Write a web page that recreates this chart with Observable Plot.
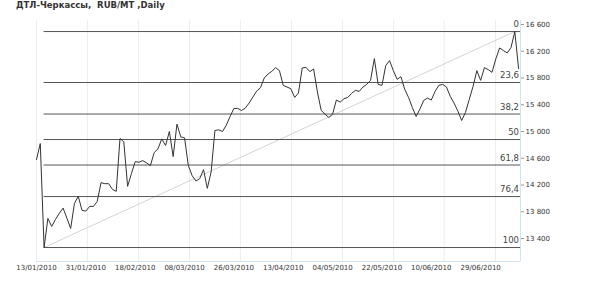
<!DOCTYPE html>
<html><head><meta charset="utf-8">
<script src="https://cdn.jsdelivr.net/npm/d3@7"></script>
<script src="https://cdn.jsdelivr.net/npm/@observablehq/plot@0.6"></script>
<style>
body{margin:0;background:#fff;}
#wrap{position:relative;width:590px;height:290px;overflow:hidden;}
#title{position:absolute;left:16px;top:0px;font:bold 8.5px "DejaVu Sans";color:#333;white-space:pre;}
#chart{position:absolute;left:0;top:0;}
</style></head><body><div id="wrap"><div id="chart"></div><div id="title"></div></div>
<script>
const title = "ДТЛ-Черкассы,  RUB/MT ,Daily";
const prices = [
14580,14820,13265,13700,13580,13685,13775,13855,13705,13550,
13925,14030,13820,13810,13880,13880,13955,14235,14220,14220,
14135,14105,14895,14845,14180,14370,14550,14540,14565,14530,
14490,14685,14740,14890,14790,15000,14625,15110,14920,14905,
14490,14340,14260,14295,14430,14150,14395,15015,15025,15000,
15095,15225,15345,15345,15315,15350,15425,15515,15605,15655,
15800,15860,15900,15955,15910,15690,15665,15640,15510,15575,
15950,15960,15895,15935,15590,15315,15260,15210,15260,15470,
15440,15490,15510,15570,15615,15600,15665,15705,15765,16090,
15705,15690,15985,16060,15910,15780,15820,15630,15510,15360,
15225,15335,15465,15500,15470,15600,15690,15705,15665,15525,
15425,15305,15165,15285,15480,15675,15910,15765,15955,15925,
15885,16085,16250,16210,16175,16255,16495,15940
];
const tickIndex = [0,13,26,39,52,65,78,91,104,117];
const tickLabels = ["13/01/2010","31/01/2010","18/02/2010","08/03/2010","26/03/2010","13/04/2010","04/05/2010","22/05/2010","10/06/2010","29/06/2010"];
const gridIndex = [0,13.4,26.9,40.3,53.7,67.2,80.6,94.1,107.4,120.9];
const yTicks = [13400,13800,14200,14600,15000,15400,15800,16200,16600];
const fibLevels = [0,23.6,38.2,50,61.8,76.4,100];
const fibLabels = ["0","23,6","38,2","50","61,8","76,4","100"];

document.getElementById("title").textContent = title;

const data = prices.map((v,i)=>({i,v}));
const vMin = d3.min(prices), vMax = d3.max(prices);
const iMin = prices.indexOf(vMin), iMax = prices.indexOf(vMax);
const xEnd = prices.length - 0.5;
const fib = fibLevels.map((p,k)=>({p, label: fibLabels[k], v: vMax - (vMax - vMin) * p / 100}));
const yDomain = [13056, 16660];

const chart = Plot.plot({
  width: 590, height: 290,
  marginLeft: 36, marginRight: 70, marginTop: 20, marginBottom: 29,
  style: {fontFamily: '"DejaVu Sans"', fontSize: "7px", color: "#333", background: "transparent"},
  x: {domain: [0, xEnd], axis: null, label: null},
  y: {domain: yDomain, axis: null, label: null},
  marks: [
    Plot.ruleX(gridIndex, {x: d => d, stroke: "#e4eef6"}),
    Plot.ruleX([xEnd], {stroke: "#d3e3f0"}),
    Plot.ruleY([yDomain[0]], {stroke: "#d3e3f0"}),
    Plot.line([{i: iMin, v: vMin}, {i: iMax, v: vMax}], {x: "i", y: "v", stroke: "#d4d4d4", strokeWidth: 1}),
    Plot.ruleY(fib, {y: "v", x1: iMin, x2: xEnd, stroke: "#555", strokeWidth: 1}),
    Plot.text(fib, {x: xEnd, y: "v", text: "label", textAnchor: "end", dx: -1.5, dy: -7, fontSize: 8.5, fill: "#444"}),
    Plot.line(data, {x: "i", y: "v", stroke: "#333", strokeWidth: 1}),
    Plot.axisY(yTicks, {anchor: "right", label: null, tickSize: 3, tickPadding: 2, stroke: "#999", fill: "#333",
      tickFormat: d => d3.format(",")(d).replace(",", " ")}),
    Plot.axisX(tickIndex, {anchor: "bottom", label: null, tickSize: 0, tickPadding: 4, fill: "#333",
      tickFormat: d => tickLabels[tickIndex.indexOf(d)]})
  ]
});
document.getElementById("chart").appendChild(chart);
</script>
</body></html>
